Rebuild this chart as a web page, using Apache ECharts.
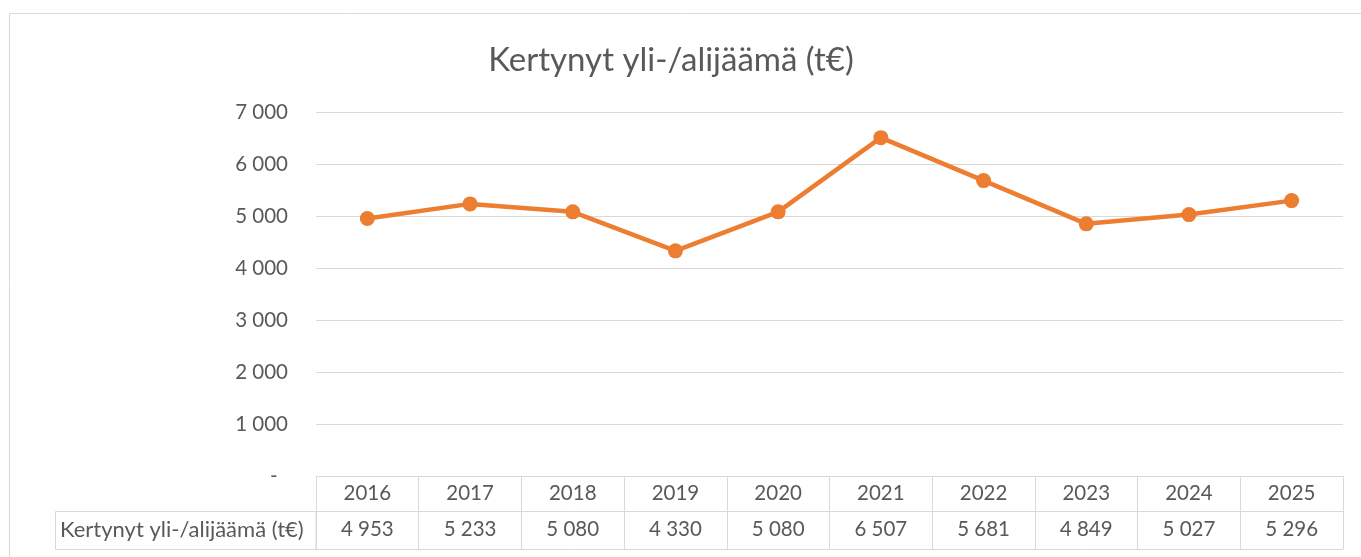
<!DOCTYPE html>
<html>
<head>
<meta charset="utf-8">
<script src="https://cdn.jsdelivr.net/npm/echarts@6/dist/echarts.min.js"></script>
<style>
  html, body { margin: 0; padding: 0; background: #fff; }
  #chart { width: 1361px; height: 557px; }
</style>
</head>
<body>
<div id="chart"></div>
<script>
// data
const titleText = 'Kertynyt yli-/alijäämä (t€)'
const seriesName = 'Kertynyt yli-/alijäämä (t€)'
const years = ['2016', '2017', '2018', '2019', '2020', '2021', '2022', '2023', '2024', '2025']
const values = [4953, 5233, 5080, 4330, 5080, 6507, 5681, 4849, 5027, 5296]

const textColor = '#595959'
const lineColor = '#d9d9d9'
const font = 'Lato, "Open Sans", sans-serif'

// 千位空格分隔
function fmt(v) {
  if (v === 0) return '-  '
  return String(v).replace(/\B(?=(\d{3})+(?!\d))/g, ' ')
}

const chart = echarts.init(document.getElementById('chart'))
chart.setOption({
  animation: false,
  textStyle: { fontFamily: font },
  grid: { left: 316, right: 18, top: 112, bottom: 81, outerBoundsMode: 'none' },
  xAxis: [
    {
      type: 'category', data: years, boundaryGap: true,
      axisLine: { show: true, lineStyle: { color: lineColor, width: 1 } },
      axisTick: { show: true, length: 73, interval: 0, lineStyle: { color: lineColor } },
      axisLabel: { margin: 7, interval: 0, color: textColor, fontSize: 20.5, fontFamily: font }
    },
    {
      type: 'category', data: values.map(fmt), boundaryGap: true, position: 'bottom', offset: 35,
      axisLine: { show: true, lineStyle: { color: lineColor, width: 1 } },
      axisTick: { show: false },
      axisLabel: { margin: 8, interval: 0, color: textColor, fontSize: 20.5, fontFamily: font }
    },
    {
      type: 'category', data: years, boundaryGap: true, position: 'bottom', offset: 73,
      axisLine: { show: true, lineStyle: { color: lineColor, width: 1 } },
      axisTick: { show: false },
      axisLabel: { show: false }
    }
  ],
  yAxis: {
    type: 'value', min: 0, max: 7000, interval: 1000,
    axisLine: { show: false }, axisTick: { show: false },
    splitLine: { lineStyle: { color: lineColor, width: 1.2 } },
    axisLabel: { margin: 28, color: textColor, fontSize: 20.5, fontFamily: font, formatter: fmt }
  },
  graphic: [
    { type: 'rect', silent: true, shape: { x: 9.5, y: 13.5, width: 1400, height: 600 }, style: { fill: 'none', stroke: lineColor, lineWidth: 1 } },
    { type: 'text', x: 671, y: 60, style: { text: titleText, align: 'center', verticalAlign: 'middle', fill: textColor, font: '33px ' + font } },
    { type: 'rect', silent: true, shape: { x: 55.5, y: 511.5, width: 260.5, height: 38 }, style: { fill: 'none', stroke: lineColor, lineWidth: 1 } },
    { type: 'text', x: 60, y: 530, style: { text: seriesName, align: 'left', verticalAlign: 'middle', fill: textColor, font: '22px ' + font } }
  ],
  series: [{
    name: seriesName, type: 'line', data: values,
    symbol: 'circle', symbolSize: 15,
    itemStyle: { color: '#ED7D31' },
    lineStyle: { color: '#ED7D31', width: 4.5 }
  }]
})
</script>
</body>
</html>
